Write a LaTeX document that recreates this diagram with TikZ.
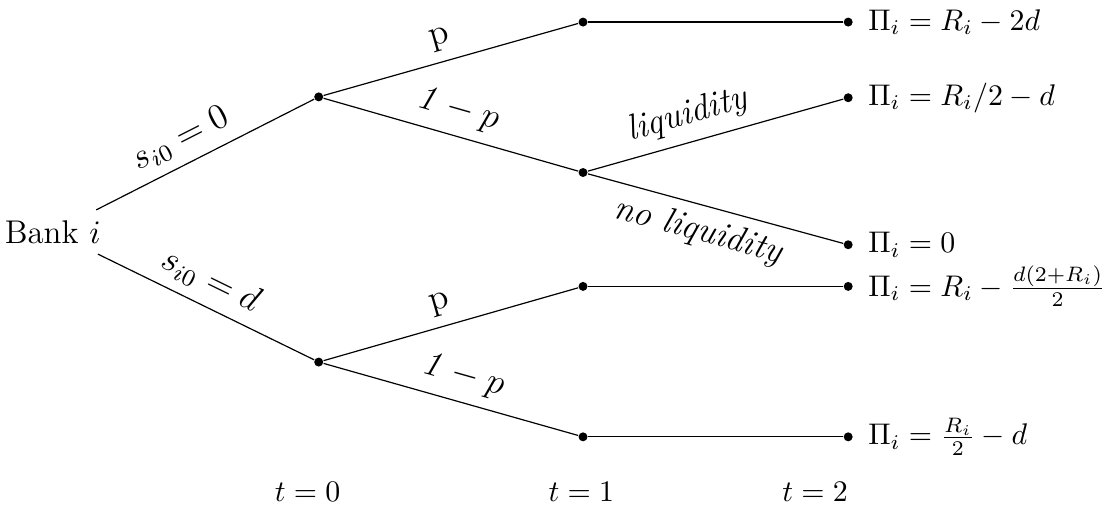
\documentclass[tikz,border=0pt]{standalone}
\usetikzlibrary{positioning}
\begin{document}
\begin{tikzpicture}[dot/.style={circle, fill, inner sep=0pt, minimum size=3pt},
  lbl/.style={sloped, font=\large}]
  \useasboundingbox (0,0) rectangle (12.99,6.01);
  \node[font=\fontsize{11}{13}\selectfont] (bank) at (0.62,3.28) {Bank $i$};
  \foreach \n/\x/\y in {a/3.75/4.87, b/3.75/1.75, c1/6.86/5.75, c2/6.86/3.98,
      c3/6.86/2.64, c4/6.86/0.87, d1/9.98/5.75, d2/9.98/4.86, d3/9.98/3.13,
      d4/9.98/2.64, d5/9.98/0.87}
    \node[dot] (\n) at (\x,\y) {};
  % period 0
  \draw (bank) -- node[above, lbl, pos=0.44] {$s_{i0}=0$} (a);
  \draw (bank) -- node[above, lbl, pos=0.47] {$s_{i0}=d$} (b);
  % period 1
  \draw (a) -- node[above, lbl, pos=0.48] {$\mathrm{p}$} (c1);
  \draw (a) -- node[above, lbl, pos=0.5] {$\mathit{1}-p$} (c2);
  \draw (b) -- node[above, lbl, pos=0.48] {$\mathrm{p}$} (c3);
  \draw (b) -- node[above, lbl, pos=0.52] {$\mathit{1}-p$} (c4);
  % period 2
  \draw (c1) -- (d1);
  \draw (c2) -- node[above, lbl, pos=0.42] {\textit{liquidity}} (d2);
  \draw (c2) -- node[below, lbl, pos=0.46] {\textit{no liquidity}} (d3);
  \draw (c3) -- (d4);
  \draw (c4) -- (d5);
  % payoffs
  \foreach \n/\lab in {d1/{$\Pi_i=R_i-2d$}, d2/{$\Pi_i=R_i/2-d$}, d3/{$\Pi_i=0$},
      d4/{$\Pi_i=R_i-\frac{d(2+R_i)}{2}$}, d5/{$\Pi_i=\frac{R_i}{2}-d$}}
    \node[right=1.5pt of \n] (pay\n) {\lab};
  % time
  \node (t0) at (3.62,0.22) {$t=0$};
  \node (t1) at (6.84,0.22) {$t=1$};
  \node (t2) at (9.59,0.22) {$t=2$};
\end{tikzpicture}
\end{document}
